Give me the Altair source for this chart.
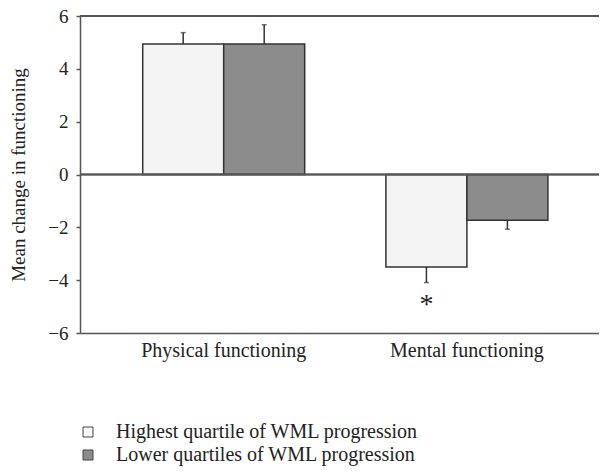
import altair as alt
import pandas as pd

categories = ["Physical functioning", "Mental functioning"]
groups = ["Highest quartile of WML progression", "Lower quartiles of WML progression"]
means_highest = [4.94, -3.50]
means_lower = [4.94, -1.73]
err_end_highest = [5.37, -4.09]
err_end_lower = [5.67, -2.07]
y_ticks = [-6, -4, -2, 0, 2, 4, 6]
star_label = "*"
star_category = "Mental functioning"
star_group = "Highest quartile of WML progression"
star_y = -5.25

rows = []
for i, c in enumerate(categories):
    rows.append({"cat": c, "grp": groups[0], "mean": means_highest[i], "err": err_end_highest[i]})
    rows.append({"cat": c, "grp": groups[1], "mean": means_lower[i], "err": err_end_lower[i]})
df = pd.DataFrame(rows)
star_df = pd.DataFrame([{"cat": star_category, "grp": star_group, "y": star_y, "t": star_label}])

FONT = "Liberation Serif"
W, H = 519, 317

x_scale = alt.Scale(paddingInner=0.334, paddingOuter=0.234, align=0.551, round=False)
x_enc = alt.X("cat:N", sort=categories, title=None, scale=x_scale,
              axis=alt.Axis(labelAngle=0, ticks=False, domain=True, labelPadding=7, labelFontSize=20))
xo_enc = alt.XOffset("grp:N", sort=groups, scale=alt.Scale(paddingInner=0, paddingOuter=0))
y_scale = alt.Scale(domain=[-6, 6], nice=False)
y_enc = alt.Y("mean:Q", scale=y_scale, title="Mean change in functioning",
              axis=alt.Axis(values=y_ticks, grid=False, tickSize=4, labelPadding=8,
                            labelFontSize=19, titlePadding=19))

color = alt.Color("grp:N", sort=groups,
                  scale=alt.Scale(domain=groups, range=["#f4f4f4", "#8c8c8c"]),
                  legend=alt.Legend(title=None, orient="none", legendX=-2, legendY=406,
                                    symbolType="square", symbolSize=100, symbolStrokeColor="#444444",
                                    symbolStrokeWidth=1, labelOffset=18, rowPadding=3,
                                    padding=0, labelLimit=500))

bars = alt.Chart(df).mark_bar(stroke="#333333", strokeWidth=1.5).encode(
    x=x_enc, xOffset=xo_enc, y=y_enc, y2=alt.Y2(datum=0), fill=color
)

err = alt.Chart(df).mark_rule(color="#333333", strokeWidth=1.5).encode(
    x=alt.X("cat:N", sort=categories, scale=x_scale), xOffset=xo_enc, y=y_enc, y2="err:Q"
)
caps = alt.Chart(df).mark_tick(color="#333333", thickness=1.5, size=5, orient="horizontal").encode(
    x=alt.X("cat:N", sort=categories, scale=x_scale), xOffset=xo_enc,
    y=alt.Y("err:Q", scale=y_scale)
)

zero_line = alt.Chart(df).mark_rule(color="#555555", strokeWidth=1.5).encode(
    x=alt.value(0), x2=alt.value(W), y=alt.Y(datum=0, scale=y_scale)
)
top_line = alt.Chart(df).mark_rule(color="#555555", strokeWidth=1.5).encode(
    x=alt.value(0), x2=alt.value(W), y=alt.Y(datum=6, scale=y_scale)
)

star = alt.Chart(star_df).mark_text(fontSize=28, font=FONT, baseline="alphabetic", color="#222222").encode(
    x=alt.X("cat:N", sort=categories, scale=x_scale), xOffset=xo_enc,
    y=alt.Y("y:Q", scale=y_scale), text="t:N"
)

chart = alt.layer(bars, err, caps, zero_line, top_line, star).properties(
    width=W, height=H,
    autosize=alt.AutoSizeParams(type="none"),
    padding={"left": 72, "top": 8, "right": 0, "bottom": 134},
).configure_view(stroke=None).configure(
    background="white", font=FONT
).configure_axis(
    labelFont=FONT, titleFont=FONT, titleFontSize=19,
    titleFontWeight="normal", labelColor="#222222", titleColor="#222222",
    domainColor="#555555", domainWidth=1.5, tickColor="#555555", tickWidth=1.5
).configure_legend(
    labelFont=FONT, labelFontSize=20, labelColor="#222222"
)

chart.save("out.html", embed_options={"renderer": "svg", "actions": False})
